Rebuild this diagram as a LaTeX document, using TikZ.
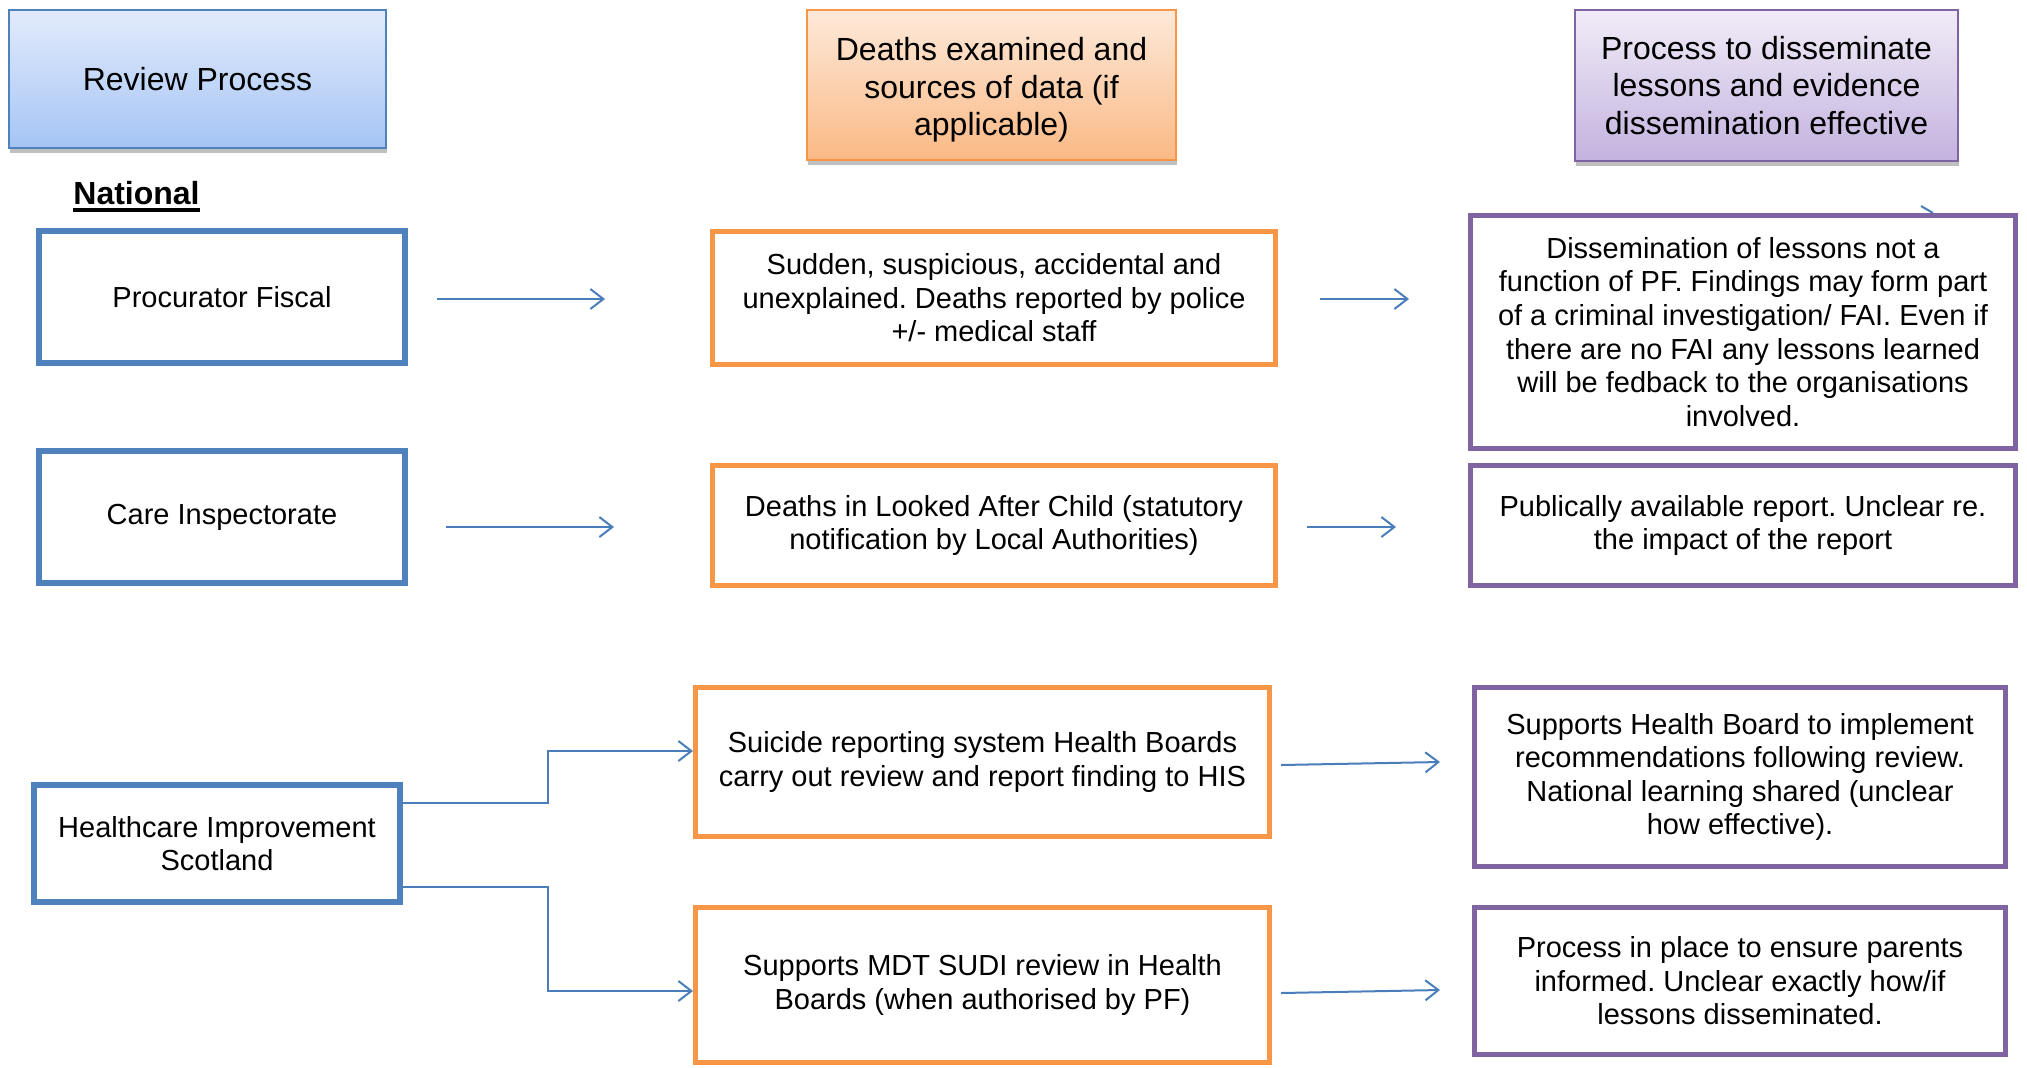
\documentclass[tikz,border=0pt]{standalone}
\usepackage{fontspec}
\setmainfont{Liberation Sans}
\usetikzlibrary{arrows.meta,shadows}
\definecolor{bblue}{HTML}{4F81BD}
\definecolor{borange}{HTML}{F79646}
\definecolor{bpurple}{HTML}{8064A2}
\definecolor{aline}{HTML}{4A7EBB}
\definecolor{hblueA}{HTML}{E2EBFB}
\definecolor{hblueB}{HTML}{A5C4F5}
\definecolor{horangeA}{HTML}{FDE9D9}
\definecolor{horangeB}{HTML}{FAB985}
\definecolor{hpurpleA}{HTML}{F1ECF7}
\definecolor{hpurpleB}{HTML}{C3B2DF}
\frenchspacing
\begin{document}
\frenchspacing
\begin{tikzpicture}[x=0.5pt,y=-0.5pt,
  bodytext/.style={font=\fontsize{14.5}{16.8}\selectfont, align=center, inner sep=0pt},
  bluebox/.style={bodytext, draw=bblue, line width=3pt, fill=white},
  orangebox/.style={bodytext, draw=borange, line width=2.5pt, fill=white},
  purplebox/.style={bodytext, draw=bpurple, line width=2.5pt, fill=white},
  header/.style={font=\fontsize{16}{18.75}\selectfont, align=center, inner sep=0pt, line width=1pt,
    drop shadow={shadow xshift=0.5pt, shadow yshift=-2.5pt, fill=black!25, opacity=1}},
  conn/.style={draw=aline, line width=1pt},
  arr/.style={conn, -{Straight Barb[length=6.5pt, width=10pt, line width=1pt]}},
]
\useasboundingbox (0,0) rectangle (2027,1067);

% headers
\node[header, draw=bblue, top color=hblueA, bottom color=hblueB, minimum width=188.5pt, minimum height=69pt] (hrev) at (197.5,79) {Review Process};
\node[header, draw=borange, top color=horangeA, bottom color=horangeB, minimum width=184.5pt, minimum height=75pt] (hdea) at (991.5,85) {\rule{0pt}{16.5pt}Deaths examined and\\sources of data (if\\applicable)};
\node[header, draw=bpurple, top color=hpurpleA, bottom color=hpurpleB, minimum width=191.5pt, minimum height=75.5pt] (hpro) at (1766.5,85.5) {Process to disseminate\\lessons and evidence\\dissemination effective};

% National label
\node[anchor=base west, font=\bfseries\fontsize{16}{19}\selectfont, inner sep=0pt] (nat) at (73,204) {National};
\draw[line width=2pt] ([yshift=-3pt]nat.base west) -- ([yshift=-3pt]nat.base east);

% left column
\node[bluebox, minimum width=183pt, minimum height=66pt] (pf) at (222,297) {Procurator Fiscal};
\node[bluebox, minimum width=183pt, minimum height=66pt] (ci) at (222,517) {Care Inspectorate};
\node[bluebox, minimum width=183pt, minimum height=58.5pt] (his) at (217,843.5) {Healthcare Improvement\\Scotland};

% middle column
\node[orangebox, minimum width=281.5pt, minimum height=66.5pt] (sud) at (994,298) {Sudden, suspicious, accidental and\\unexplained. Deaths reported by police\\+/- medical staff};
\node[orangebox, minimum width=281.5pt, minimum height=60pt] (lac) at (994,525.5) {Deaths in Looked After Child (statutory\\notification by Local Authorities)};
\node[orangebox, minimum width=287pt, minimum height=74.5pt] (sui) at (982.5,762) {Suicide reporting system Health Boards\\carry out review and report finding to HIS};
\node[orangebox, minimum width=287pt, minimum height=77.5pt] (sudi) at (982.5,985) {Supports MDT SUDI review in Health\\Boards (when authorised by PF)};

% right column
\node[purplebox, minimum width=272.5pt, minimum height=116.5pt] (dis) at (1743,332) {Dissemination of lessons not a\\function of PF. Findings may form part\\of a criminal investigation/ FAI. Even if\\there are no FAI any lessons learned\\will be fedback to the organisations\\involved.};
\node[purplebox, minimum width=272.5pt, minimum height=60pt] (pub) at (1743,525.5) {Publically available report. Unclear re.\\the impact of the report};
\node[purplebox, minimum width=265.5pt, minimum height=89.5pt] (sup) at (1740,777) {Supports Health Board to implement\\recommendations following review.\\National learning shared (unclear\\how effective).};
\node[purplebox, minimum width=265.5pt, minimum height=73.5pt] (pip) at (1740,981) {Process in place to ensure parents\\informed. Unclear exactly how/if\\lessons disseminated.};

% free-standing arrows
\coordinate (a1s) at (437,299);  \coordinate (a1e) at (605,299);
\coordinate (a2s) at (1320,299); \coordinate (a2e) at (1409,299);
\coordinate (a3s) at (446,527);  \coordinate (a3e) at (614,527);
\coordinate (a4s) at (1307,527); \coordinate (a4e) at (1396,527);
\coordinate (a5s) at (1281,765); \coordinate (a5e) at (1440,762);
\coordinate (a6s) at (1281,993); \coordinate (a6e) at (1440,990);
\draw[arr] (a1s) -- (a1e);
\draw[arr] (a2s) -- (a2e);
\draw[arr] (a3s) -- (a3e);
\draw[arr] (a4s) -- (a4e);
\draw[arr] (a5s) -- (a5e);
\draw[arr] (a6s) -- (a6e);

% HIS branches
\coordinate (b1) at (548,803);
\coordinate (b2) at (548,887);
\draw[arr] (his.east |- b1) -- (b1) |- (sui.west |- 0,751);
\draw[arr] (his.east |- b2) -- (b2) |- (sudi.west |- 0,991);

% small stray tick above dissemination box
\coordinate (t1) at (1921,206); \coordinate (t2) at (1933,213);
\draw[conn] (t1) -- (t2);
\end{tikzpicture}
\end{document}
